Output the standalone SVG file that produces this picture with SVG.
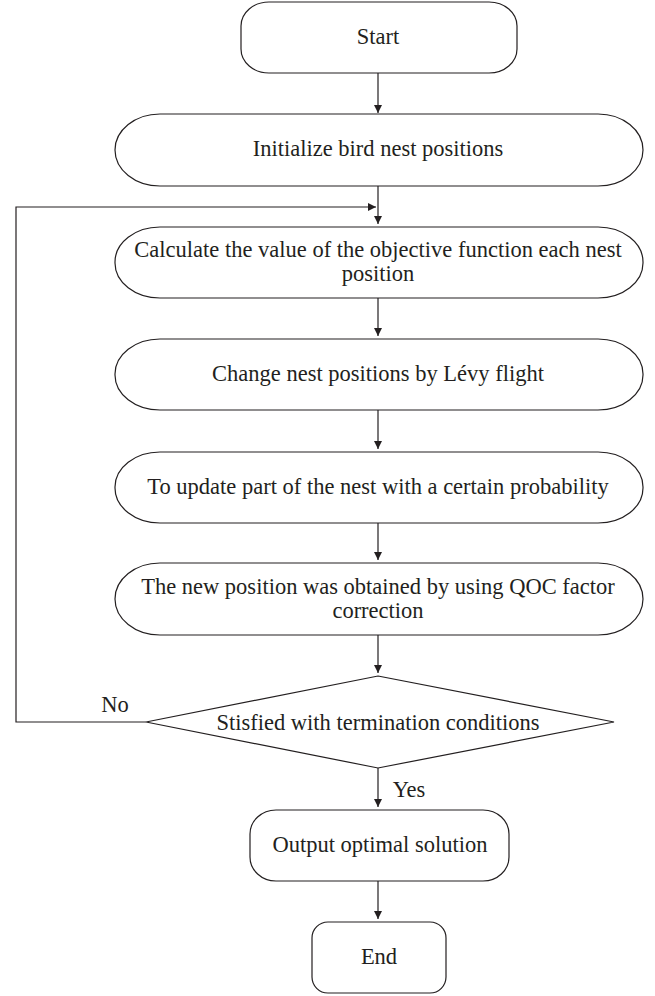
<svg xmlns="http://www.w3.org/2000/svg" width="655" height="996" viewBox="0 0 655 996">
<style>
.box{fill:#fff;stroke:#231f20;stroke-width:1.2}
.t{font-family:"Liberation Serif","Times New Roman",serif;font-size:22.5px;fill:#231f20;text-anchor:middle}
.c{fill:none;stroke:#231f20;stroke-width:1.2}
</style>
<defs>
<marker id="ah" markerWidth="8" markerHeight="10" refX="8" refY="5" orient="auto" markerUnits="userSpaceOnUse">
<path d="M0,1 L8,5 L0,9 Z" fill="#231f20"/>
</marker>
</defs>
<rect width="655" height="996" fill="#fff"/>
<g id="connectors">
<line class="c" x1="378" y1="73" x2="378" y2="113" marker-end="url(#ah)"/>
<line class="c" x1="378" y1="186" x2="378" y2="224" marker-end="url(#ah)"/>
<line class="c" x1="378" y1="298" x2="378" y2="336" marker-end="url(#ah)"/>
<line class="c" x1="378" y1="410" x2="378" y2="449" marker-end="url(#ah)"/>
<line class="c" x1="378" y1="523" x2="378" y2="560" marker-end="url(#ah)"/>
<line class="c" x1="378" y1="635" x2="378" y2="673" marker-end="url(#ah)"/>
<polyline class="c" points="146,722 16,722 16,207 376,207" marker-end="url(#ah)"/>
<line class="c" x1="378" y1="768" x2="378" y2="807" marker-end="url(#ah)"/>
<line class="c" x1="378" y1="881" x2="378" y2="919" marker-end="url(#ah)"/>
<text class="t" x="115" y="712">No</text>
<text class="t" x="409" y="797">Yes</text>
</g>
<g id="start">
<rect class="box" x="241" y="2" width="276" height="71" rx="28" ry="24"/>
<text class="t" x="378" y="44">Start</text>
</g>
<g id="init">
<rect class="box" x="115" y="114" width="528" height="72" rx="45" ry="36"/>
<text class="t" x="378" y="156">Initialize bird nest positions</text>
</g>
<g id="calc">
<rect class="box" x="115" y="227" width="528" height="71" rx="45" ry="35"/>
<text class="t" x="378" y="257">Calculate the value of the objective function each nest</text>
<text class="t" x="378" y="281">position</text>
</g>
<g id="levy">
<rect class="box" x="115" y="339" width="528" height="71" rx="45" ry="35"/>
<text class="t" x="378" y="381">Change nest positions by Lévy flight</text>
</g>
<g id="update">
<rect class="box" x="115" y="452" width="528" height="71" rx="45" ry="35"/>
<text class="t" x="378" y="494">To update part of the nest with a certain probability</text>
</g>
<g id="qoc">
<rect class="box" x="115" y="563" width="528" height="72" rx="45" ry="36"/>
<text class="t" x="378" y="594">The new position was obtained by using QOC factor</text>
<text class="t" x="378" y="618">correction</text>
</g>
<g id="decision">
<polygon class="box" points="378,676 614,722 378,768 146,722"/>
<text class="t" x="378" y="730">Stisfied with termination conditions</text>
</g>
<g id="output">
<rect class="box" x="250" y="810" width="259" height="71" rx="26" ry="24"/>
<text class="t" x="380" y="852">Output optimal solution</text>
</g>
<g id="end">
<rect class="box" x="312" y="922" width="134" height="71" rx="16" ry="16"/>
<text class="t" x="379" y="964">End</text>
</g>
</svg>
